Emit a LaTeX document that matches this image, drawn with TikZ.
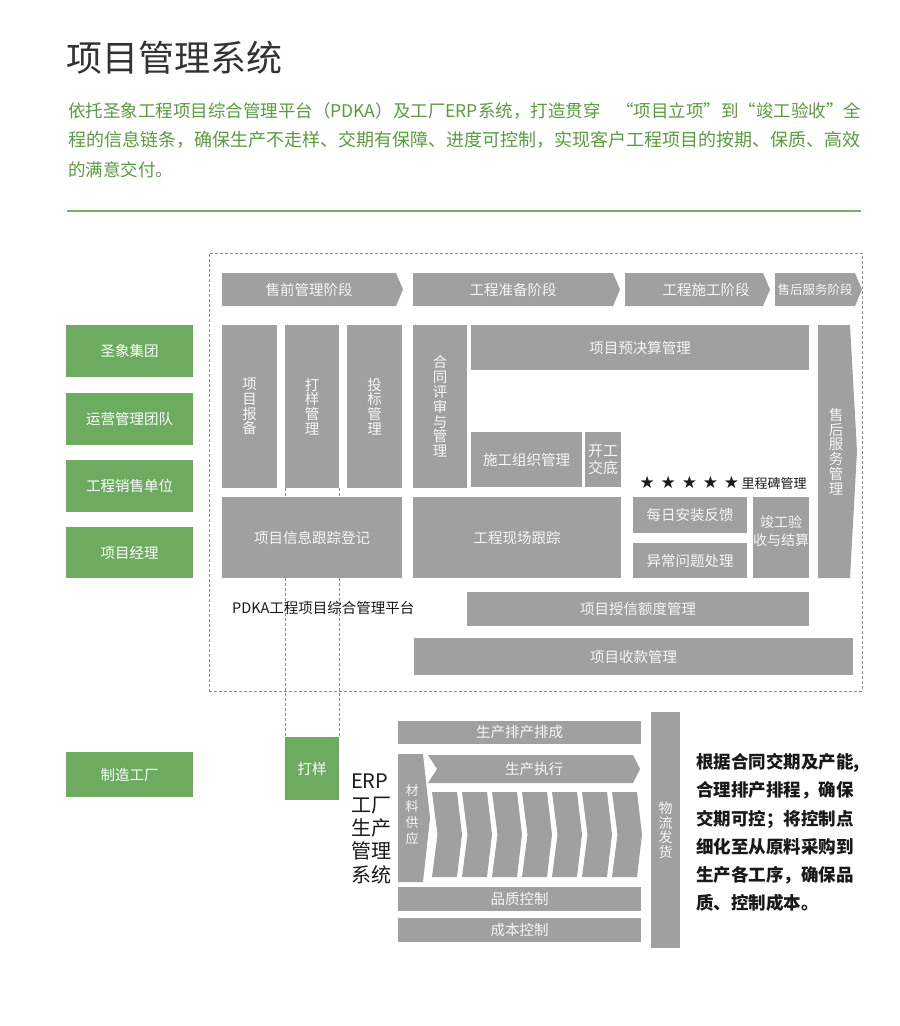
\documentclass[tikz,border=0pt]{standalone}
\usepackage{fontspec}
\setmainfont{Noto Sans CJK SC}
\newfontfamily\cjk{Noto Sans CJK SC}
\newfontfamily\dejavu{DejaVu Sans}
\XeTeXlinebreaklocale "zh"
\XeTeXlinebreakskip=0pt plus 2pt
\newcommand\myfs[2]{\fontsize{#1}{#2}\selectfont}
\newcommand\mybx[7][gbox]{\node[#1,minimum width={(#5-#3)*1pt},minimum height={(#6-#4)*1pt}] (#2) at ({(#3+#5)/2},{(#4+#6)/2}) {#7};}
\definecolor{boxgray}{RGB}{160,160,160}
\definecolor{boxtext}{RGB}{246,246,246}
\definecolor{boxgreen}{RGB}{108,171,96}
\definecolor{paragreen}{RGB}{90,155,65}
\definecolor{rulegreen}{RGB}{118,176,98}
\definecolor{titlegray}{RGB}{51,51,51}
\definecolor{dashgray}{RGB}{140,140,140}
\definecolor{inkblack}{RGB}{25,25,25}
\pgfdeclarelayer{back}
\pgfdeclarelayer{bg}
\pgfsetlayers{back,bg,main}
\begin{document}
\begin{tikzpicture}[x=1pt,y=-1pt,
  gbox/.style={rectangle,fill=boxgray,draw=none,inner sep=0pt,outer sep=0pt,text=boxtext,
    font=\cjk\myfs{14.5}{14.8},align=center},
  grbox/.style={gbox,fill=boxgreen,text=white},
  lbl/.style={inner sep=0pt,text=boxtext,font=\cjk\myfs{14.5}{14.8},align=center},
  chevshape/.style={fill=boxgray,draw=none},
  para/.style={anchor=west,inner sep=0pt,text=paragreen,font=\cjk\myfs{18}{20}},
  dline/.style={draw=dashgray,line width=0.8pt,dash pattern=on 3pt off 2pt},
  frame/.style={rectangle,draw=dashgray,line width=0.8pt,dash pattern=on 3pt off 2pt,inner sep=0pt,outer sep=0pt},
  plain/.style={inner sep=0pt,text=inkblack,align=left}
]
\begin{pgfonlayer}{back}
\fill[white] (0,0) rectangle (900,1026);
\end{pgfonlayer}
\useasboundingbox (0,0) rectangle (900,1026);

% title and intro
\node[anchor=west,inner sep=0pt,text=titlegray,font=\cjk\myfs{36}{40}] (title) at (66,58) {项目管理系统};
\node[para,font=\cjk\myfs{17.5}{20}] (p1) at (68,110.5) {\makebox[793pt][s]{依托圣象工程项目综合管理平台（PDKA）及工厂ERP系统，打造贯穿 “项目立项”到“竣工验收”全}};
\node[para] (p2) at (68,140) {\makebox[793pt][s]{程的信息链条，确保生产不走样、交期有保障、进度可控制，实现客户工程项目的按期、保质、高效}};
\node[para,font=\cjk\myfs{17.5}{20}] (p3) at (68,169.5) {的满意交付。};
\coordinate (rl) at (67,211);
\coordinate (rr) at (861,211);
\draw[rulegreen,line width=2pt] (rl) -- (rr);

% PDKA frame
\mybx[frame]{pdka}{209}{253}{862}{691}{}

% phase chevrons
\fill[chevshape] (222,273) -- (396,273) -- (403,289.5) -- (396,306) -- (222,306) -- cycle;
\node[lbl] (ph1) at (309,289.5) {售前管理阶段};
\fill[chevshape] (413,273) -- (613,273) -- (620,289.5) -- (613,306) -- (413,306) -- cycle;
\node[lbl] (ph2) at (513,289.5) {工程准备阶段};
\fill[chevshape] (625,273) -- (763,273) -- (770,289.5) -- (763,306) -- (625,306) -- cycle;
\node[lbl] (ph3) at (706,289.5) {工程施工阶段};
\fill[chevshape] (775,273) -- (855,273) -- (862,289.5) -- (855,306) -- (775,306) -- cycle;
\node[lbl,font=\cjk\myfs{12.5}{13}] (ph4) at (815,289.5) {售后服务阶段};

% left green boxes
\mybx[grbox]{g1}{66}{325}{193}{377}{圣象集团}
\mybx[grbox]{g2}{66}{393}{193}{445}{运营管理团队}
\mybx[grbox]{g3}{66}{460}{193}{512}{工程销售单位}
\mybx[grbox]{g4}{66}{527}{193}{578}{项目经理}
\mybx[grbox]{g5}{66}{752}{193}{797}{制造工厂}

% grey columns and blocks
\mybx{xmbb}{222}{325}{277}{488}{项\\目\\报\\备}
\mybx{dygl}{285}{325}{339}{488}{打\\样\\管\\理}
\mybx{tbgl}{347}{325}{402}{488}{投\\标\\管\\理}
\mybx{htps}{413}{325}{467}{488}{合\\同\\评\\审\\与\\管\\理}
\mybx{yjs}{471}{325}{809}{370}{项目预决算管理}
\mybx{sgzz}{471}{432}{582}{487}{施工组织管理}
\mybx[gbox,font=\cjk\myfs{15}{17}]{kgjd}{585}{432}{621}{487}{开工\\交底}
\mybx{xxgz}{222}{497}{402}{578}{项目信息跟踪登记}
\mybx{xcgz}{413}{497}{621}{578}{工程现场跟踪}
\mybx{mraz}{633}{497}{747}{533}{每日安装反馈}
\mybx{ycwt}{633}{543}{747}{578}{异常问题处理}
\mybx{jgys}{753}{497}{809}{578}{}
\node[lbl,font=\cjk\myfs{14}{18}] (jgyslbl) at (781,531) {竣工验\\收与结算};
\mybx{sxed}{467}{592}{809}{626}{项目授信额度管理}
\mybx{sk}{414}{638}{853}{675}{项目收款管理}

% after-sales arrow
\fill[chevshape] (818,325) -- (850,325) -- (857,451) -- (850,578) -- (818,578) -- cycle;
\node[lbl] (shfw) at (836,451.5) {售\\后\\服\\务\\管\\理};

% milestones
\node[anchor=west,inner sep=0pt,text=inkblack,font=\cjk\myfs{13}{15}] (ms) at (639.5,483)
  {{\dejavu\myfs{17}{17}★\hspace{5.8pt}★\hspace{5.8pt}★\hspace{5.8pt}★\hspace{5.8pt}★}\hspace{2.5pt}里程碑管理};

\node[anchor=west,inner sep=0pt,text=inkblack,font=\cjk\myfs{14.5}{16}] (pdkalbl) at (232,607.5) {PDKA工程项目综合管理平台};

% sample box
\mybx[grbox]{dy}{285}{737}{339}{800}{打样}

% ERP
\node[anchor=west,plain,font=\cjk\myfs{20}{23.3}] (erp) at (351,829) {ERP\\工厂\\生产\\管理\\系统};
\mybx{pcpc}{398}{721}{641}{744}{生产排产排成}
\fill[chevshape] (428,755) -- (633,755) -- (640,769) -- (633,783) -- (428,783) -- (437,769) -- cycle;
\node[lbl] (sczx) at (534,769) {生产执行};
\fill[chevshape] (398,754) -- (423,754) -- (430,818) -- (423,882) -- (398,882) -- cycle;
\node[lbl,font=\cjk\myfs{13}{16}] (clgy) at (412,815) {材\\料\\供\\应};
\foreach \k in {0,...,6}{
  \fill[chevshape] ({432+30*\k},792) -- ++(25,0) -- ++(5,42.5) -- ++(-5,42.5) -- ++(-25,0) -- ++(5.5,-42.5) -- cycle;
}
\mybx{pzkz}{398}{887}{641}{911}{品质控制}
\mybx{cbkz}{398}{918}{641}{942}{成本控制}
\mybx[gbox,font=\cjk\myfs{14}{14.5}]{wlfh}{651}{712}{680}{948}{物\\流\\发\\货}

\node[anchor=west,plain,font=\cjk\bfseries\myfs{17.5}{28.3}] (note) at (696,832.5)
  {根据合同交期及产能,\\合理排产排程，确保\\交期可控；将控制点\\细化至从原料采购到\\生产各工序，确保品\\质、控制成本。};

\begin{pgfonlayer}{bg}
\draw[dline] (dygl.south west) -- (dy.north west);
\draw[dline] (dygl.south east) -- (dy.north east);
\end{pgfonlayer}
\end{tikzpicture}
\end{document}
